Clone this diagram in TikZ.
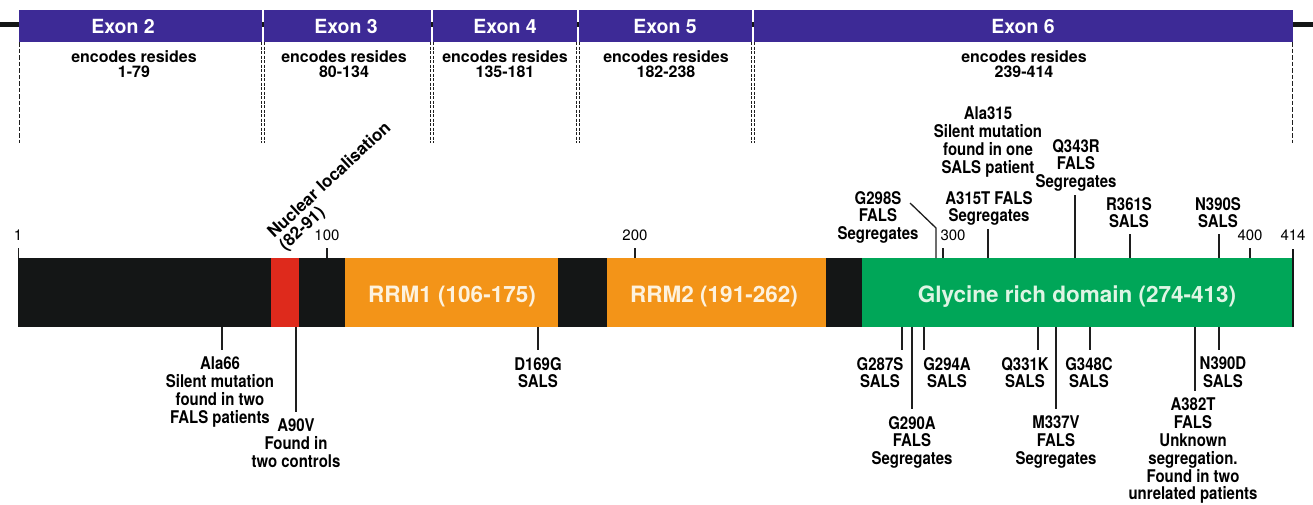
\documentclass[tikz,border=0pt]{standalone}
\usepackage{fontspec}
\setmainfont{TeX Gyre Heros}
\newfontfamily\condfont{TeX Gyre Heros}[FakeStretch=0.855]
\definecolor{exonpurple}{RGB}{61,42,150}
\definecolor{barblack}{RGB}{20,22,22}
\definecolor{nlsred}{RGB}{222,42,28}
\definecolor{rrmorange}{RGB}{243,148,24}
\definecolor{glygreen}{RGB}{0,166,88}
\definecolor{rrmtext}{RGB}{253,242,222}
\definecolor{glytext}{RGB}{222,245,228}
\definecolor{tickgray}{RGB}{30,30,30}
\begin{document}
\begin{tikzpicture}[x=1pt,y=-1pt,
  mut/.style={font=\condfont\bfseries\fontsize{17.5}{17.8}\selectfont, align=center, inner sep=0pt, text=black},
  exlab/.style={font=\bfseries\fontsize{19.5}{20}\selectfont, text=white, inner sep=0pt, anchor=base},
  enc/.style={font=\bfseries\fontsize{16}{15}\selectfont, align=center, inner sep=0pt, anchor=north},
  scalelab/.style={font=\fontsize{15}{15}\selectfont, inner sep=0pt},
  domlab/.style={font=\bfseries\fontsize{22.5}{24}\selectfont, inner sep=0pt, anchor=base},
  tickline/.style={draw=tickgray, line width=1.3pt},
  singledash/.style={draw=tickgray, line width=1.3pt, dash pattern=on 4.5pt off 2pt},
  doubledash/.style={draw=tickgray, line width=1.2pt, dash pattern=on 3pt off 1.5pt}
]
\useasboundingbox (0,0) rectangle (1313,504);

% backbone line and exon header
\draw[barblack, line width=4.5pt] (0,24.5) -- (1313,24.5);
\fill[exonpurple] (19,10) rectangle (262.2,42);
\fill[exonpurple] (263.8,10) rectangle (431.2,42);
\fill[exonpurple] (432.8,10) rectangle (577.2,42);
\fill[exonpurple] (578.8,10) rectangle (752.2,42);
\fill[exonpurple] (753.8,10) rectangle (1293,42);

\node[exlab] (ex2) at (123,33) {Exon 2};
\node[exlab] (ex3) at (346,33) {Exon 3};
\node[exlab] (ex4) at (505,33) {Exon 4};
\node[exlab] (ex5) at (665,33) {Exon 5};
\node[exlab] (ex6) at (1023,33) {Exon 6};

\node[enc] (enc2) at (134,50.5) {encodes resides\\1-79};
\node[enc] (enc3) at (344,50.5) {encodes resides\\80-134};
\node[enc] (enc4) at (505,50.5) {encodes resides\\135-181};
\node[enc] (enc5) at (666,50.5) {encodes resides\\182-238};
\node[enc] (enc6) at (1024,50.5) {encodes resides\\239-414};

% exon boundary dashed lines
\draw[singledash] (19.6,42) -- (19.6,143);
\draw[singledash] (1292.4,42) -- (1292.4,143);
\foreach \xx in {263,432,578,753}{
  \draw[doubledash] (\xx-1.2,42) -- (\xx-1.2,143);
  \draw[doubledash] (\xx+1.2,42) -- (\xx+1.2,143);
}

% protein bar
\fill[barblack] (18,258) rectangle (271,327);
\fill[nlsred] (271,258) rectangle (299,327);
\fill[barblack] (299,258) rectangle (345,327);
\fill[rrmorange] (345,258) rectangle (558,327);
\fill[barblack] (558,258) rectangle (607,327);
\fill[rrmorange] (607,258) rectangle (826,327);
\fill[barblack] (826,258) rectangle (862,327);
\fill[glygreen] (862,258) rectangle (1292,327);

\node[domlab, text=rrmtext] (rrm1) at (452,302) {RRM1 (106-175)};
\node[domlab, text=rrmtext] (rrm2) at (714,302) {RRM2 (191-262)};
\node[domlab, text=glytext] (gly) at (1077,302) {Glycine rich domain (274-413)};

\node[font=\bfseries\fontsize{17}{17}\selectfont, align=left, inner sep=0pt, rotate=43, anchor=south west] (nls) at (288,254) {Nuclear localisation\\(82-91)};

% scale
\node[scalelab] (n1) at (18,235) {1};
\node[scalelab] (n100) at (327,235) {100};
\node[scalelab] (n200) at (635,235) {200};
\node[scalelab] (n300) at (953,235) {300};
\node[scalelab] (n400) at (1250,235) {400};
\node[scalelab] (n414) at (1293,235) {414};
\coordinate (s1) at (18.6,258);
\coordinate (s100) at (327,258);
\coordinate (s200) at (635,258);
\coordinate (s300) at (943,258);
\coordinate (s400) at (1250,258);
\coordinate (s414) at (1293,327);
\foreach \s in {1,100,200,400}{
  \draw[tickline, shorten >=7pt] (s\s) -- (s\s |- n\s.south);
}
\draw[tickline, shorten >=7pt] (s300) -- (s300 |- n300.south);
\draw[draw=barblack, line width=2pt, shorten >=8pt] (s414) -- (s414 |- n414.south);

% mutations above the bar
\node[mut, anchor=north] (l298) at (878,191) {G298S\\FALS\\Segregates};
\node[mut, anchor=north] (l315t) at (989,191) {A315T FALS\\Segregates};
\node[mut, anchor=north] (l315) at (988,107) {Ala315\\Silent mutation\\found in one\\SALS patient};
\node[mut, anchor=north] (l343) at (1076,139) {Q343R\\FALS\\Segregates};
\node[mut, anchor=north] (l361) at (1129,197) {R361S\\SALS};
\node[mut, anchor=north] (l390s) at (1218,197) {N390S\\SALS};

\coordinate (t298) at (936,258);
\coordinate (k298) at (936,228);
\coordinate (e298) at (910,203);
\coordinate (t315) at (988,258);
\coordinate (t343) at (1075,258);
\coordinate (t361) at (1130,258);
\coordinate (t390s) at (1219,258);
\draw[tickline] (t298) -- (k298) -- (e298);
\draw[tickline, shorten >=3.5pt] (t315) -- (t315 |- l315t.south);
\draw[tickline, shorten >=3pt] (t343) -- (t343 |- l343.south);
\draw[tickline, shorten >=6pt] (t361) -- (t361 |- l361.south);
\draw[tickline, shorten >=6pt] (t390s) -- (t390s |- l390s.south);

% mutations below the bar
\node[mut, anchor=north] (l66) at (220,357) {Ala66\\Silent mutation\\found in two\\FALS patients};
\node[mut, anchor=north] (l90) at (296,419) {A90V\\Found in\\two controls};
\node[mut, anchor=north] (l169) at (538,357) {D169G\\SALS};
\node[mut, anchor=north] (l287) at (880,357) {G287S\\SALS};
\node[mut, anchor=north] (l290) at (912,416) {G290A\\FALS\\Segregates};
\node[mut, anchor=north] (l294) at (947,357) {G294A\\SALS};
\node[mut, anchor=north] (l331) at (1025,357) {Q331K\\SALS};
\node[mut, anchor=north] (l337) at (1056,416) {M337V\\FALS\\Segregates};
\node[mut, anchor=north] (l348) at (1089,357) {G348C\\SALS};
\node[mut, anchor=north] (l382) at (1193,398) {A382T\\FALS\\Unknown\\segregation.\\Found in two\\unrelated patients};
\node[mut, anchor=north] (l390d) at (1223,357) {N390D\\SALS};

\coordinate (b66) at (222,327);
\coordinate (b90) at (296,327);
\coordinate (b169) at (538,327);
\coordinate (b287) at (902,327);
\coordinate (b290) at (912,327);
\coordinate (b294) at (924,327);
\coordinate (b331) at (1038,327);
\coordinate (b337) at (1056,327);
\coordinate (b348) at (1090,327);
\coordinate (b382) at (1195,327);
\coordinate (b390d) at (1219,327);
\foreach \m in {66,90,169,287,290,294,331,337,348,382,390d}{
  \draw[tickline, shorten >=7pt] (b\m) -- (b\m |- l\m.north);
}
\end{tikzpicture}
\end{document}
